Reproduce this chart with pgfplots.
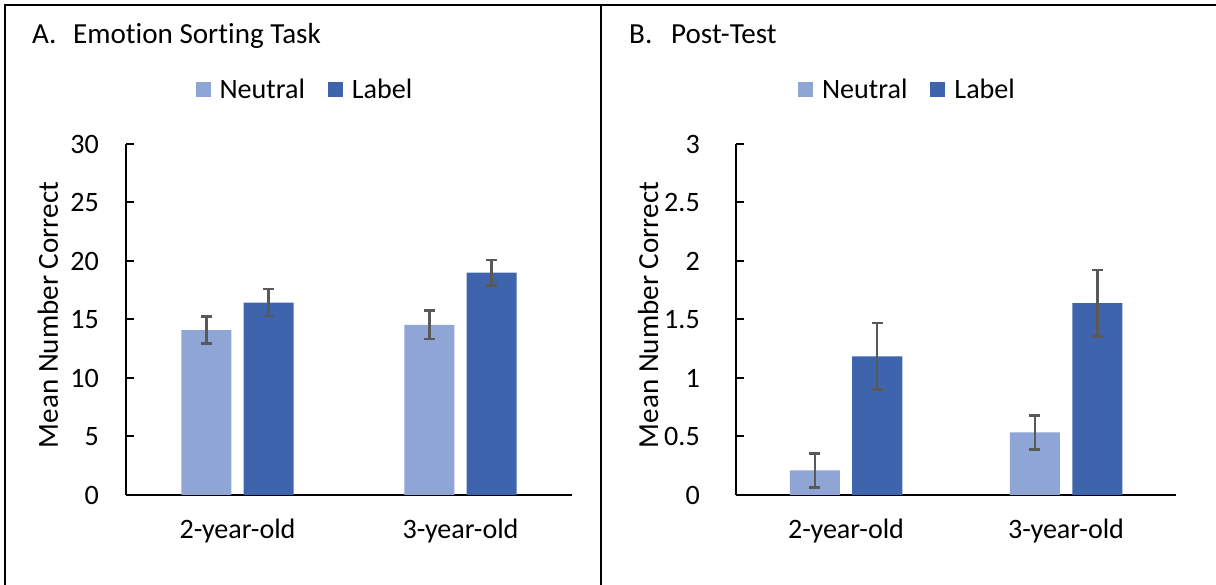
\documentclass[border=0pt]{standalone}
\usepackage{fontspec}
\setmainfont[Ligatures=NoCommon]{Carlito}
\usepackage{pgfplots}
\pgfplotsset{compat=1.18}
\definecolor{neutralc}{RGB}{143,165,213}
\definecolor{labelc}{RGB}{61,100,173}
\definecolor{errc}{RGB}{89,89,89}
\newcommand\fs{\fontsize{28.2}{34}\selectfont}
\newcommand\fl{\fontsize{29.2}{35}\selectfont}
\pgfplotsset{
  panel/.style={
    scale only axis, height=351bp,
    ymin=0, xmin=-0.5, xmax=1.5,
    axis x line=bottom, axis y line=left,
    axis line style={-, line width=2bp, black},
    xtick={0,1}, xticklabels={2-year-old,3-year-old},
    x tick style={draw=none},
    major tick length=8bp, tick align=inside,
    y tick style={line width=2bp, black},
    tick label style={font=\fs},
    xticklabel style={anchor=base, inner sep=0pt, yshift=-43bp},
    label style={font=\fl},
    ylabel={Mean Number Correct},
    legend columns=2,
    legend style={draw=none, fill=none, font=\fs, inner sep=0pt,
      nodes={inner sep=0pt},
      /tikz/every odd column/.append style={column sep=9bp},
      /tikz/every even column/.append style={column sep=23bp}},
    /pgf/number format/assume math mode=true,
  },
  sqleg/.style={legend image code/.code={\fill[#1] (0bp,-7.5bp) rectangle (15bp,7.5bp);}},
  errs/.style={
    error bars/y dir=both, error bars/y explicit,
    error bars/error bar style={line width=2.5bp, errc},
    error bars/error mark options={line width=2.5bp, errc, mark size=5.5bp, rotate=90}},
}
\begin{document}
\begin{tikzpicture}
\path[use as bounding box] (0bp,0bp) rectangle (1216bp,585bp);
\draw[line width=2bp] (5bp,0bp) -- (5bp,580bp) -- (1216bp,580bp);
\draw[line width=2bp] (601bp,0bp) -- (601bp,580bp);
\node[anchor=base west, inner sep=0pt, font=\fl] at (32bp,541bp) {A.};
\node[anchor=base west, inner sep=0pt, font=\fl] at (73bp,541bp) {Emotion Sorting Task};
\node[anchor=base west, inner sep=0pt, font=\fl] at (629bp,541bp) {B.};
\node[anchor=base west, inner sep=0pt, font=\fl] at (671bp,541bp) {Post-Test};

\begin{axis}[panel, at={(126bp,90bp)}, anchor=south west, width=446bp,
  ymax=30, ytick={0,5,10,15,20,25,30}, yticklabels={0,5,10,15,20,25,30},
  yticklabel style={anchor=east, inner sep=0pt, xshift=-27bp},
  ylabel style={at={(axis description cs:-0.175,0.513)}, anchor=center},
  legend style={at={(axis description cs:0.399,1.154)}, anchor=center}]
\addplot[ybar, bar width=50bp, bar shift=0pt, fill=neutralc, draw=none, sqleg=neutralc, errs]
  coordinates {(-0.14,14.1) +- (0,1.15) (0.86,14.55) +- (0,1.2)};
\addlegendentry{Neutral}
\addplot[ybar, bar width=50bp, bar shift=0pt, fill=labelc, draw=none, sqleg=labelc, errs]
  coordinates {(0.14,16.45) +- (0,1.15) (1.14,19.0) +- (0,1.1)};
\addlegendentry{Label}
\end{axis}

\begin{axis}[panel, at={(736bp,90bp)}, anchor=south west, width=440bp,
  ymax=3, ytick={0,0.5,1,1.5,2,2.5,3}, yticklabels={0,0.5,1,1.5,2,2.5,3},
  yticklabel style={anchor=east, inner sep=0pt, xshift=-36bp},
  ylabel style={at={(axis description cs:-0.2,0.513)}, anchor=center},
  legend style={at={(axis description cs:0.3875,1.154)}, anchor=center}]
\addplot[ybar, bar width=50bp, bar shift=0pt, fill=neutralc, draw=none, sqleg=neutralc, errs]
  coordinates {(-0.142,0.21) +- (0,0.145) (0.858,0.535) +- (0,0.145)};
\addlegendentry{Neutral}
\addplot[ybar, bar width=50bp, bar shift=0pt, fill=labelc, draw=none, sqleg=labelc, errs]
  coordinates {(0.142,1.185) +- (0,0.285) (1.142,1.64) +- (0,0.285)};
\addlegendentry{Label}
\end{axis}
\end{tikzpicture}
\end{document}
